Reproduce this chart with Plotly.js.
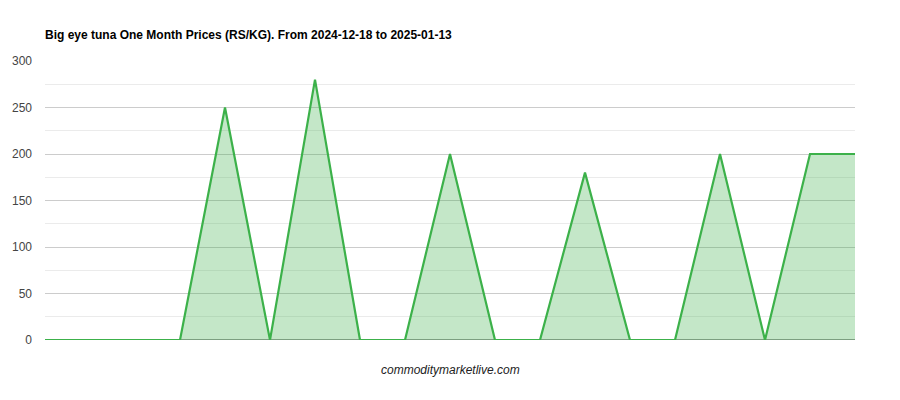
<!DOCTYPE html>
<html>
<head>
<meta charset="utf-8">
<script src="https://cdn.plot.ly/plotly-3.0.1.min.js"></script>
<style>html,body{margin:0;padding:0;background:#fff;}#chart{width:900px;height:400px;}</style>
</head>
<body>
<div id="chart"></div>
<script>
const dates = ["2024-12-18","2024-12-19","2024-12-20","2024-12-23","2024-12-24","2024-12-25","2024-12-26","2024-12-27","2024-12-30","2024-12-31","2025-01-01","2025-01-02","2025-01-03","2025-01-06","2025-01-07","2025-01-08","2025-01-09","2025-01-10","2025-01-13"];
const prices = [0,0,0,0,250,0,280,0,0,200,0,0,180,0,0,200,0,200,200];
const yTicks = [0,50,100,150,200,250,300];

const trace = {
  x: dates, y: prices, type: 'scatter', mode: 'lines',
  line: {color: '#3cb14a', width: 2.2},
  fill: 'tozeroy', fillcolor: 'rgba(60,177,74,0.3)',
  hoverinfo: 'x+y'
};
const layout = {
  width: 900, height: 400,
  margin: {l: 45, r: 45, t: 61, b: 60},
  paper_bgcolor: '#fff', plot_bgcolor: '#fff',
  font: {family: 'Arial, "Liberation Sans", sans-serif', size: 12, color: '#444'},
  title: {text: '<b>Big eye tuna One Month Prices (RS/KG). From 2024-12-18 to 2025-01-13</b>',
          x: 0, xref: 'paper', xanchor: 'left', y: 1 - 35 / 400, yref: 'container', yanchor: 'middle',
          font: {size: 12, color: '#000'}},
  showlegend: false,
  xaxis: {type: 'category', range: [0, dates.length - 1], showticklabels: false, showgrid: false,
          zeroline: false, showline: false, ticks: ''},
  yaxis: {range: [0, 300], tickvals: yTicks, ticktext: yTicks.map(String), showgrid: true,
          gridcolor: '#cccccc', gridwidth: 1, zeroline: false, showline: false, ticks: '',
          ticklabelstandoff: 12, tickfont: {size: 12, color: '#444'},
          minor: {dtick: 25, tick0: 0, showgrid: true, gridcolor: '#ebebeb', gridwidth: 1}},
  shapes: [{type: 'line', xref: 'paper', yref: 'y', x0: 0, x1: 1, y0: 0, y1: 0,
            line: {color: '#333', width: 1}, layer: 'below'}],
  annotations: [{text: '<i>commoditymarketlive.com</i>', xref: 'paper', yref: 'paper', x: 0.5, y: 0,
                 yshift: -30, xanchor: 'center', yanchor: 'middle', showarrow: false,
                 font: {size: 12, color: '#222'}}]
};
Plotly.newPlot('chart', [trace], layout, {displayModeBar: false, staticPlot: true});
</script>
</body>
</html>
